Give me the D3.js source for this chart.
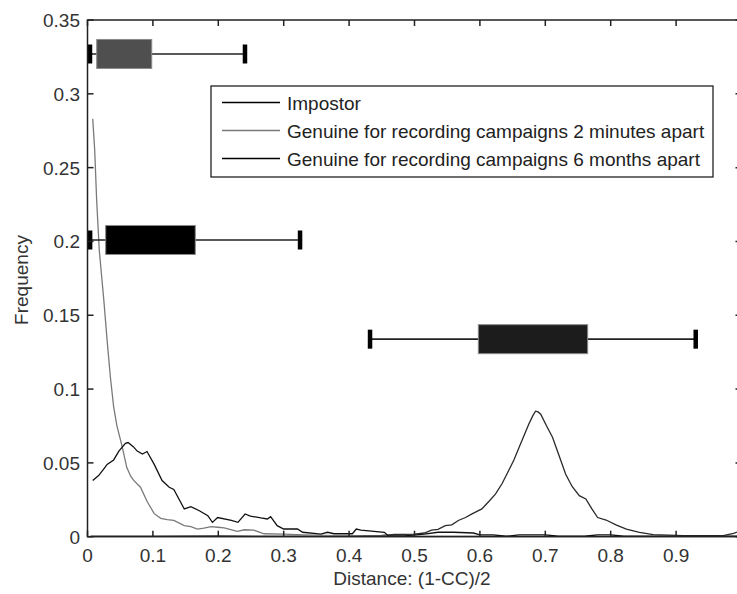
<!DOCTYPE html>
<html>
<head>
<meta charset="utf-8">
<script src="https://cdn.jsdelivr.net/npm/d3@7"></script>
<style>
  body { margin: 0; background: #fff; }
  text { font-family: "Liberation Sans", Arial, sans-serif; }
</style>
</head>
<body>
<div id="chart"></div>
<script>
// tick values
const xTicks = [0, 0.1, 0.2, 0.3, 0.4, 0.5, 0.6, 0.7, 0.8, 0.9];
const yTicks = [0, 0.05, 0.1, 0.15, 0.2, 0.25, 0.3, 0.35];

const seriesNames = [
  "Impostor",
  "Genuine for recording campaigns 2 minutes apart",
  "Genuine for recording campaigns 6 months apart"
];

// frequency curves, [distance, frequency]
const impostor = [
  [0.005, 0.0004], [0.1, 0.0004], [0.2, 0.0005], [0.3, 0.0004], [0.4, 0.0005],
  [0.45, 0.0008], [0.47, 0.0015], [0.5, 0.0018], [0.515, 0.0025], [0.526, 0.0045],
  [0.536, 0.005], [0.547, 0.0075], [0.557, 0.008], [0.567, 0.011], [0.578, 0.013],
  [0.588, 0.0155], [0.603, 0.0188], [0.614, 0.024], [0.624, 0.029], [0.634, 0.036],
  [0.644, 0.0448], [0.652, 0.052], [0.66, 0.0606], [0.668, 0.069], [0.675, 0.0765],
  [0.681, 0.082], [0.685, 0.085], [0.689, 0.0845], [0.693, 0.083], [0.702, 0.075],
  [0.711, 0.0674], [0.721, 0.055], [0.731, 0.0425], [0.741, 0.034], [0.752, 0.0278],
  [0.762, 0.0256], [0.771, 0.019], [0.78, 0.013], [0.793, 0.0113], [0.808, 0.008],
  [0.824, 0.0052], [0.844, 0.003], [0.865, 0.0014], [0.911, 0.0007], [0.972, 0.0007],
  [0.988, 0.0022], [0.998, 0.004], [1.0, 0.0045]
];

const genuine2min = [
  [0.008, 0.283], [0.011, 0.262], [0.014, 0.228], [0.018, 0.194], [0.025, 0.16],
  [0.03, 0.133], [0.035, 0.108], [0.04, 0.088], [0.045, 0.075], [0.053, 0.061],
  [0.06, 0.047], [0.066, 0.041], [0.071, 0.038], [0.081, 0.0335], [0.091, 0.024],
  [0.102, 0.0156], [0.112, 0.0124], [0.122, 0.0115], [0.132, 0.011], [0.148, 0.0075],
  [0.158, 0.0068], [0.168, 0.0052], [0.178, 0.0058], [0.189, 0.0068], [0.199, 0.0064],
  [0.209, 0.006], [0.219, 0.0048], [0.229, 0.0036], [0.24, 0.0047], [0.254, 0.0045],
  [0.27, 0.002], [0.3, 0.0018], [0.33, 0.0012], [0.36, 0.0008], [0.4, 0.0005],
  [0.45, 0.0004], [0.5, 0.0003], [0.6, 0.0003], [0.7, 0.0002], [0.8, 0.0002],
  [0.9, 0.0002], [1.0, 0.0002]
];

const genuine6mo = [
  [0.008, 0.038], [0.017, 0.0414], [0.025, 0.046], [0.03, 0.049], [0.04, 0.052],
  [0.048, 0.058], [0.058, 0.0633], [0.062, 0.0638], [0.07, 0.061], [0.076, 0.058],
  [0.084, 0.056], [0.091, 0.0577], [0.102, 0.049], [0.114, 0.038], [0.125, 0.0335],
  [0.132, 0.032], [0.148, 0.0188], [0.158, 0.0204], [0.171, 0.0176], [0.184, 0.0142],
  [0.191, 0.0097], [0.199, 0.013], [0.22, 0.011], [0.23, 0.0097], [0.241, 0.0154],
  [0.249, 0.014], [0.265, 0.0127], [0.275, 0.012], [0.28, 0.0136], [0.29, 0.0075],
  [0.3, 0.0052], [0.321, 0.0052], [0.329, 0.003], [0.357, 0.0018], [0.367, 0.003],
  [0.377, 0.002], [0.405, 0.002], [0.411, 0.0052], [0.418, 0.0045], [0.454, 0.003],
  [0.46, 0.0005], [0.485, 0.0005], [0.515, 0.0018], [0.536, 0.003], [0.56, 0.003],
  [0.59, 0.0025], [0.6, 0.0012], [0.62, 0.0012], [0.64, 0.0003], [0.66, 0.0012],
  [0.7, 0.0012], [0.72, 0.0003], [0.76, 0.0003], [0.78, 0.0012], [0.8, 0.0012],
  [0.82, 0.0003], [0.9, 0.0003], [1.0, 0.0003]
];

// box plots: 2 minutes, 6 months, impostor
const boxLevel = [0.327, 0.201, 0.1338];
const whiskerLow = [0.0038, 0.004, 0.432];
const quart1 = [0.0141, 0.0278, 0.5976];
const quart3 = [0.0982, 0.1648, 0.7648];
const whiskerHigh = [0.2408, 0.325, 0.93];

function init() {
  const W = 737, H = 594;
  const left = 87.5, right = 741.5, top = 20, bottom = 536.7;

  const svg = d3.select("#chart").append("svg")
    .attr("width", W).attr("height", H);
  svg.append("rect").attr("width", W).attr("height", H).attr("fill", "#fff");

  const x = d3.scaleLinear().domain([0, 1]).range([left, right]);
  const y = d3.scaleLinear().domain([0, 0.35]).range([bottom, top]);

  svg.append("clipPath").attr("id", "plotclip")
    .append("rect").attr("x", left).attr("y", top)
    .attr("width", right - left).attr("height", bottom - top);

  const plot = svg.append("g").attr("clip-path", "url(#plotclip)");

  const line = d3.line().x(d => x(d[0])).y(d => y(d[1]));

  // curves
  const curves = [impostor, genuine2min, genuine6mo];
  const curveColor = ["#2a2a2a", "#7a7a7a", "#111"];
  curves.forEach(function (c, i) {
    plot.append("path")
      .datum(c)
      .attr("d", line)
      .attr("fill", "none")
      .attr("stroke", curveColor[i])
      .attr("stroke-width", 1.3);
  });

  // box plots
  const boxFill = ["#4f4f4f", "#000", "#1c1c1c"];
  const boxH = 29, capH = 19;
  boxLevel.forEach(function (lv, i) {
    const cy = y(lv);
    const g = plot.append("g");
    g.append("line")
      .attr("x1", x(whiskerLow[i])).attr("x2", x(whiskerHigh[i]))
      .attr("y1", cy).attr("y2", cy)
      .attr("stroke", "#222").attr("stroke-width", 1.6);
    [whiskerLow[i], whiskerHigh[i]].forEach(function (v) {
      g.append("line")
        .attr("x1", x(v)).attr("x2", x(v))
        .attr("y1", cy - capH / 2).attr("y2", cy + capH / 2)
        .attr("stroke", "#000").attr("stroke-width", 4.5);
    });
    g.append("rect")
      .attr("x", x(quart1[i])).attr("width", x(quart3[i]) - x(quart1[i]))
      .attr("y", cy - boxH / 2).attr("height", boxH)
      .attr("fill", boxFill[i])
      .attr("stroke", "#8a8a8a").attr("stroke-width", 1);
  });

  // frame and ticks
  const axisColor = "#222";
  const tl = 6;
  const axes = svg.append("g").attr("stroke", axisColor).attr("stroke-width", 1.5);
  axes.append("rect")
    .attr("x", left).attr("y", top)
    .attr("width", right - left).attr("height", bottom - top)
    .attr("fill", "none");
  xTicks.concat([1]).forEach(function (t) {
    axes.append("line").attr("x1", x(t)).attr("x2", x(t))
      .attr("y1", bottom).attr("y2", bottom - tl);
    axes.append("line").attr("x1", x(t)).attr("x2", x(t))
      .attr("y1", top).attr("y2", top + tl);
  });
  yTicks.forEach(function (t) {
    axes.append("line").attr("x1", left).attr("x2", left + tl)
      .attr("y1", y(t)).attr("y2", y(t));
    axes.append("line").attr("x1", right).attr("x2", right - tl)
      .attr("y1", y(t)).attr("y2", y(t));
  });

  // tick labels
  const fmt = d => (d === 0 ? "0" : String(d));
  svg.append("g").selectAll("text")
    .data(xTicks).enter().append("text")
    .attr("x", d => x(d)).attr("y", 562)
    .attr("text-anchor", "middle")
    .attr("font-size", 19).attr("fill", "#333")
    .text(fmt);
  svg.append("g").selectAll("text")
    .data(yTicks).enter().append("text")
    .attr("x", 80).attr("y", d => y(d) + 7)
    .attr("text-anchor", "end")
    .attr("font-size", 19).attr("fill", "#333")
    .text(fmt);

  // axis titles
  svg.append("text")
    .attr("x", 412).attr("y", 585)
    .attr("text-anchor", "middle")
    .attr("font-size", 19).attr("fill", "#333")
    .text("Distance: (1-CC)/2");
  svg.append("text")
    .attr("transform", "translate(28,280) rotate(-90)")
    .attr("text-anchor", "middle")
    .attr("font-size", 19).attr("fill", "#333")
    .text("Frequency");

  // legend
  const leg = svg.append("g");
  leg.append("rect")
    .attr("x", 211).attr("y", 86).attr("width", 502).attr("height", 91)
    .attr("fill", "#fff").attr("stroke", "#222").attr("stroke-width", 1.3);
  const legColor = ["#000", "#7a7a7a", "#000"];
  seriesNames.forEach(function (name, i) {
    const ly = 102.5 + i * 28;
    leg.append("line")
      .attr("x1", 222).attr("x2", 280).attr("y1", ly).attr("y2", ly)
      .attr("stroke", legColor[i]).attr("stroke-width", 1.3);
    leg.append("text")
      .attr("x", 287).attr("y", ly + 7)
      .attr("font-size", 19).attr("fill", "#222")
      .text(name);
  });
}

window.onload = init;
</script>
</body>
</html>
